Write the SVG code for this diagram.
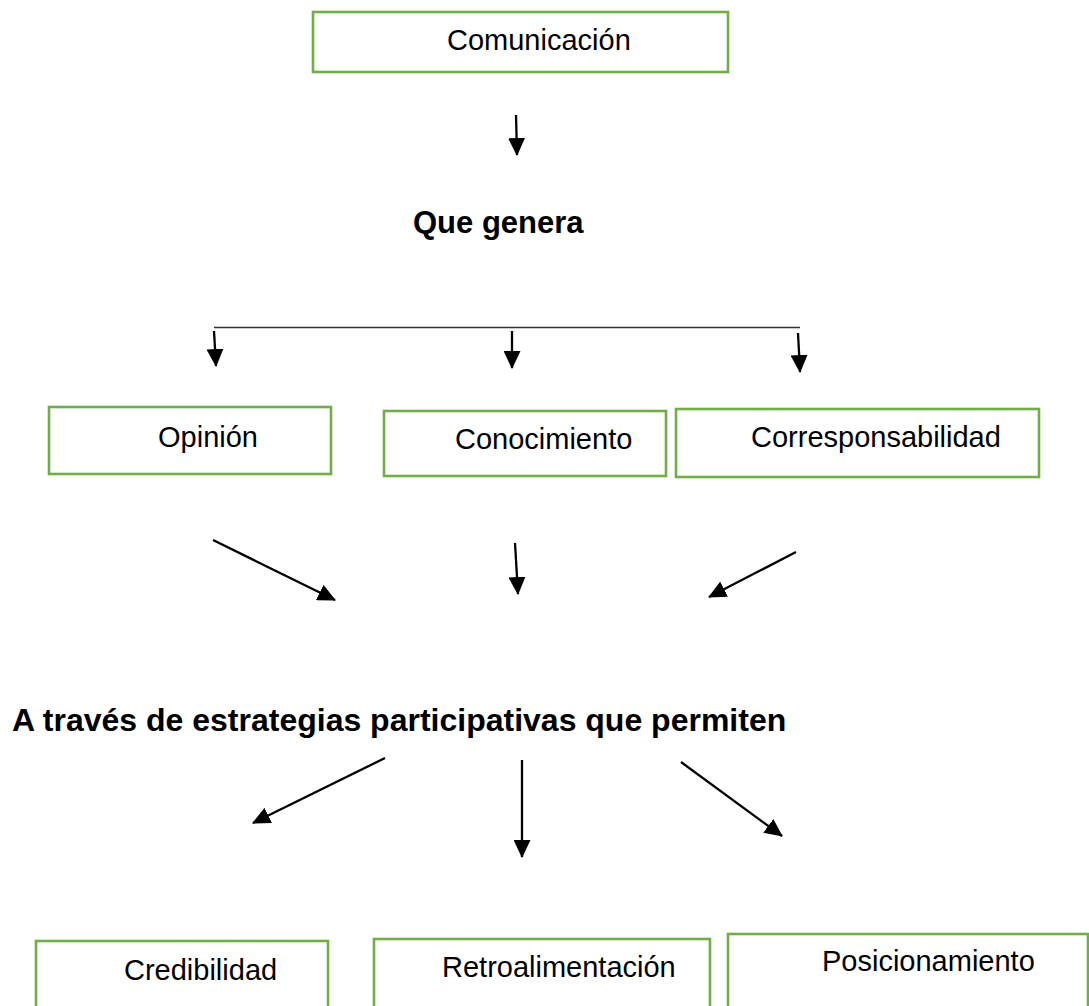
<svg xmlns="http://www.w3.org/2000/svg" width="1089" height="1006" viewBox="0 0 1089 1006">
<style>
.box{fill:#fff;stroke:#70AD47;stroke-width:2.6}
.lbl{font-family:"Liberation Sans",Arial,sans-serif;font-size:29px;fill:#000}
.bold{font-family:"Liberation Sans",Arial,sans-serif;font-weight:bold;fill:#000}
.arr{stroke:#000;stroke-width:2.3;fill:none;marker-end:url(#ah)}
.bar{stroke:#333;stroke-width:1.4;fill:none}
</style>
<defs>
<marker id="ah" markerUnits="userSpaceOnUse" markerWidth="18" markerHeight="17" refX="17" refY="8.5" orient="auto" viewBox="0 0 18 17">
<path d="M0,0 L18,8.5 L0,17 z" fill="#000"/>
</marker>
</defs>
<rect width="1089" height="1006" fill="#fff"/>
<g id="connectors">
<line class="arr" x1="516" y1="115" x2="517" y2="155"/>
<line class="bar" x1="214" y1="327.5" x2="800" y2="327.5"/>
<line class="arr" x1="214" y1="331" x2="216" y2="366"/>
<line class="arr" x1="512" y1="331" x2="512" y2="368"/>
<line class="arr" x1="798" y1="333" x2="800" y2="372"/>
<line class="arr" x1="213" y1="540" x2="335" y2="600"/>
<line class="arr" x1="515" y1="543" x2="518" y2="594"/>
<line class="arr" x1="796" y1="552" x2="709" y2="597"/>
<line class="arr" x1="385" y1="758" x2="253" y2="823"/>
<line class="arr" x1="522" y1="760" x2="522" y2="857"/>
<line class="arr" x1="681" y1="762" x2="782" y2="836"/>
</g>
<g id="comunicacion">
<rect class="box" x="313" y="12" width="415" height="60"/>
<text class="lbl" x="447" y="50">Comunicación</text>
</g>
<g id="que-genera">
<text class="bold" x="413" y="233" font-size="31">Que genera</text>
</g>
<g id="opinion">
<rect class="box" x="49" y="407" width="282" height="67"/>
<text class="lbl" x="158" y="447">Opinión</text>
</g>
<g id="conocimiento">
<rect class="box" x="384" y="411" width="282" height="65"/>
<text class="lbl" x="455" y="449">Conocimiento</text>
</g>
<g id="corresponsabilidad">
<rect class="box" x="676" y="409" width="363" height="68"/>
<text class="lbl" x="751" y="447">Corresponsabilidad</text>
</g>
<g id="estrategias">
<text class="bold" x="12" y="731" font-size="32">A través de estrategias participativas que permiten</text>
</g>
<g id="credibilidad">
<rect class="box" x="36" y="941" width="292" height="80"/>
<text class="lbl" x="124" y="980">Credibilidad</text>
</g>
<g id="retroalimentacion">
<rect class="box" x="374" y="939" width="336" height="80"/>
<text class="lbl" x="442" y="977">Retroalimentación</text>
</g>
<g id="posicionamiento">
<rect class="box" x="728" y="934" width="360" height="90"/>
<text class="lbl" x="822" y="971">Posicionamiento</text>
</g>
</svg>
